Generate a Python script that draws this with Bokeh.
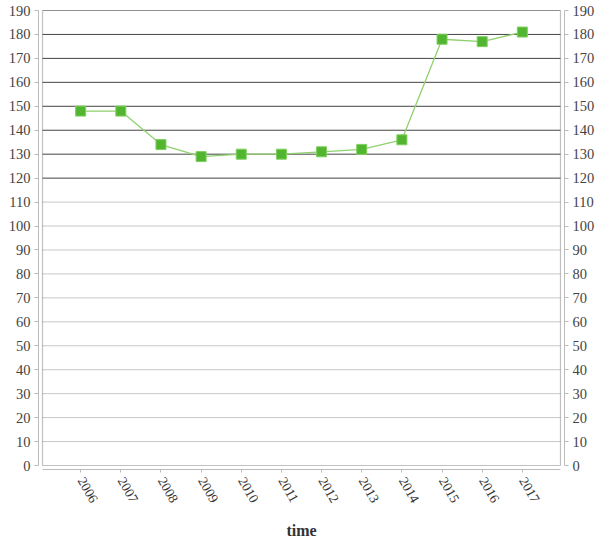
from bokeh.plotting import figure
from bokeh.models import Range1d, FixedTicker, LinearAxis, BoxAnnotation, ColumnDataSource
from bokeh.embed import file_html
from bokeh.resources import INLINE
import math

years = [2006, 2007, 2008, 2009, 2010, 2011, 2012, 2013, 2014, 2015, 2016, 2017]
values = [148, 148, 134, 129, 130, 130, 131, 132, 136, 178, 177, 181]
y_ticks = list(range(0, 191, 10))
dark_grid = [t for t in y_ticks if t >= 120]
light_grid = [t for t in y_ticks if 0 < t < 120]

FONT = "Liberation Serif"
inner_lo, inner_hi = years[0] - 0.95, years[-1] + 0.95
y_lo, y_hi = 0, 190

p = figure(output_backend="svg", toolbar_location=None,
           x_range=Range1d(inner_lo - 0.1, inner_hi + 0.1),
           y_range=Range1d(y_lo - 1.67, y_hi),
           frame_width=526, frame_height=459,
           min_border_left=38, min_border_right=30, min_border_top=10, min_border_bottom=64)
p.outline_line_color = None
p.xgrid.visible = False
p.ygrid.visible = False
p.background_fill_color = "white"

# grid lines limited to inner plot box
p.segment(x0=[inner_lo] * len(light_grid), x1=[inner_hi] * len(light_grid),
          y0=light_grid, y1=light_grid, line_color="#c8c8c8", line_width=1)
p.segment(x0=[inner_lo] * len(dark_grid), x1=[inner_hi] * len(dark_grid),
          y0=dark_grid, y1=dark_grid, line_color="#444444", line_width=1)

box = BoxAnnotation(left=inner_lo, right=inner_hi, bottom=y_lo, top=y_hi,
                    fill_alpha=0, line_color="#333333", line_width=1.2)
p.add_layout(box)

src = ColumnDataSource(dict(x=years, y=values))
p.line("x", "y", source=src, line_color="#8fd16f", line_width=1.3)
p.scatter("x", "y", source=src, marker="square", size=10,
          fill_color="#52b52f", line_color="#7fcf5f", line_width=1)

def style_y(ax):
    ax.ticker = FixedTicker(ticks=y_ticks)
    ax.bounds = (y_lo, y_hi)
    ax.axis_line_color = "#bbbbbb"
    ax.major_tick_line_color = "#bbbbbb"
    ax.minor_tick_line_color = None
    ax.major_tick_in = 0
    ax.major_tick_out = 4
    ax.major_label_standoff = 4
    ax.major_label_text_font = FONT
    ax.major_label_text_font_size = "14.5px"
    ax.major_label_text_color = "#444444"

style_y(p.yaxis[0])
ry = LinearAxis()
style_y(ry)
p.add_layout(ry, "right")

xa = p.xaxis[0]
xa.ticker = FixedTicker(ticks=years)
xa.bounds = (inner_lo, inner_hi)
xa.axis_line_color = "#bbbbbb"
xa.major_tick_line_color = "#bbbbbb"
xa.minor_tick_line_color = None
xa.major_tick_in = 0
xa.major_tick_out = 3
xa.major_label_standoff = 6
xa.major_label_orientation = -math.pi / 3
xa.major_label_text_font = FONT
xa.major_label_text_font_size = "13.5px"
xa.major_label_text_color = "#333333"
xa.axis_label = "time"
xa.axis_label_text_font = FONT
xa.axis_label_text_font_style = "bold"
xa.axis_label_text_font_size = "16px"
xa.axis_label_text_color = "#333333"
xa.axis_label_standoff = 13

open("out.html", "w").write(file_html(p, INLINE))
